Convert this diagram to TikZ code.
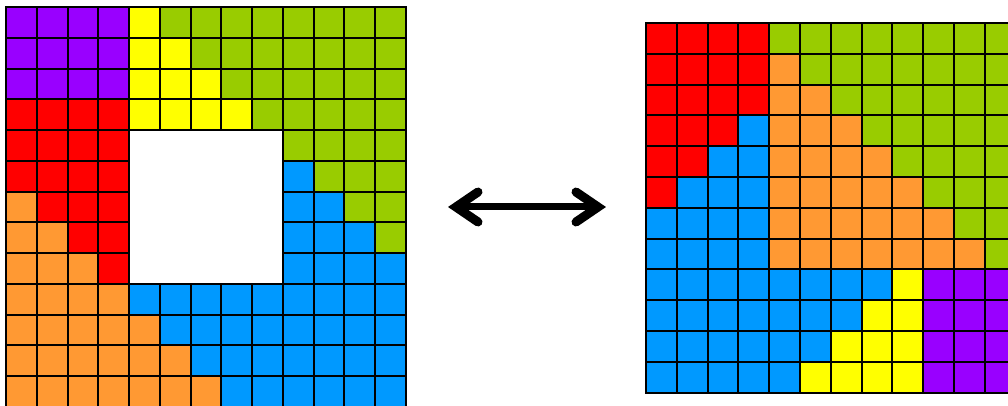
\documentclass[tikz,border=0pt]{standalone}
\usepackage{tikz}
\usetikzlibrary{calc}
\definecolor{tilepurple}{HTML}{9900FF}
\definecolor{tileyellow}{HTML}{FFFF00}
\definecolor{tilegreen}{HTML}{99CC00}
\definecolor{tilered}{HTML}{FF0000}
\definecolor{tileorange}{HTML}{FF9933}
\definecolor{tileblue}{HTML}{0099FF}
\begin{document}
\begin{tikzpicture}
	[x=0.75pt, y=-0.75pt,
	tile/.style = {draw=black, line width=1.5pt, line join=miter},
	tP/.style = {fill=tilepurple},
	tY/.style = {fill=tileyellow},
	tG/.style = {fill=tilegreen},
	tR/.style = {fill=tilered},
	tO/.style = {fill=tileorange},
	tB/.style = {fill=tileblue},
	tW/.style = {draw=none},
	shaft/.style = {line width=5.25pt},
	barb/.style = {line width=6.75pt, line cap=round, line join=miter}
	]
	\useasboundingbox (0,0) rectangle (1008,406);
	\clip (0,0) rectangle (1008,406);

	% grid with the hole
	\begin{scope}[shift={(6,7)}]
	\foreach \cells [count=\r from 0] in {
		{P,P,P,P,Y,G,G,G,G,G,G,G,G},
		{P,P,P,P,Y,Y,G,G,G,G,G,G,G},
		{P,P,P,P,Y,Y,Y,G,G,G,G,G,G},
		{R,R,R,R,Y,Y,Y,Y,G,G,G,G,G},
		{R,R,R,R,W,W,W,W,W,G,G,G,G},
		{R,R,R,R,W,W,W,W,W,B,G,G,G},
		{O,R,R,R,W,W,W,W,W,B,B,G,G},
		{O,O,R,R,W,W,W,W,W,B,B,B,G},
		{O,O,O,R,W,W,W,W,W,B,B,B,B},
		{O,O,O,O,B,B,B,B,B,B,B,B,B},
		{O,O,O,O,O,B,B,B,B,B,B,B,B},
		{O,O,O,O,O,O,B,B,B,B,B,B,B},
		{O,O,O,O,O,O,O,B,B,B,B,B,B}}
		\foreach \c [count=\k from 0] in \cells
			\draw[tile, t\c] (\k*30.77, \r*30.77) rectangle ++(30.77,30.77);
	\end{scope}

	% rearranged rectangle
	\begin{scope}[shift={(646,23)}]
	\foreach \cells [count=\r from 0] in {
		{R,R,R,R,G,G,G,G,G,G,G,G},
		{R,R,R,R,O,G,G,G,G,G,G,G},
		{R,R,R,R,O,O,G,G,G,G,G,G},
		{R,R,R,B,O,O,O,G,G,G,G,G},
		{R,R,B,B,O,O,O,O,G,G,G,G},
		{R,B,B,B,O,O,O,O,O,G,G,G},
		{B,B,B,B,O,O,O,O,O,O,G,G},
		{B,B,B,B,O,O,O,O,O,O,O,G},
		{B,B,B,B,B,B,B,B,Y,P,P,P},
		{B,B,B,B,B,B,B,Y,Y,P,P,P},
		{B,B,B,B,B,B,Y,Y,Y,P,P,P},
		{B,B,B,B,B,Y,Y,Y,Y,P,P,P}}
		\foreach \c [count=\k from 0] in \cells
			\draw[tile, t\c] (\k*30.8, \r*30.8) rectangle ++(30.8,30.8);
	\end{scope}

	% double arrow
	\coordinate (from) at (456,207);
	\coordinate (to) at (598,207);
	\draw[shaft] (from) -- (to);
	\draw[barb] ($(from)+(22,-15)$) -- (from) -- ($(from)+(22,15)$);
	\draw[barb] ($(to)+(-22,-15)$) -- (to) -- ($(to)+(-22,15)$);
\end{tikzpicture}
\end{document}
